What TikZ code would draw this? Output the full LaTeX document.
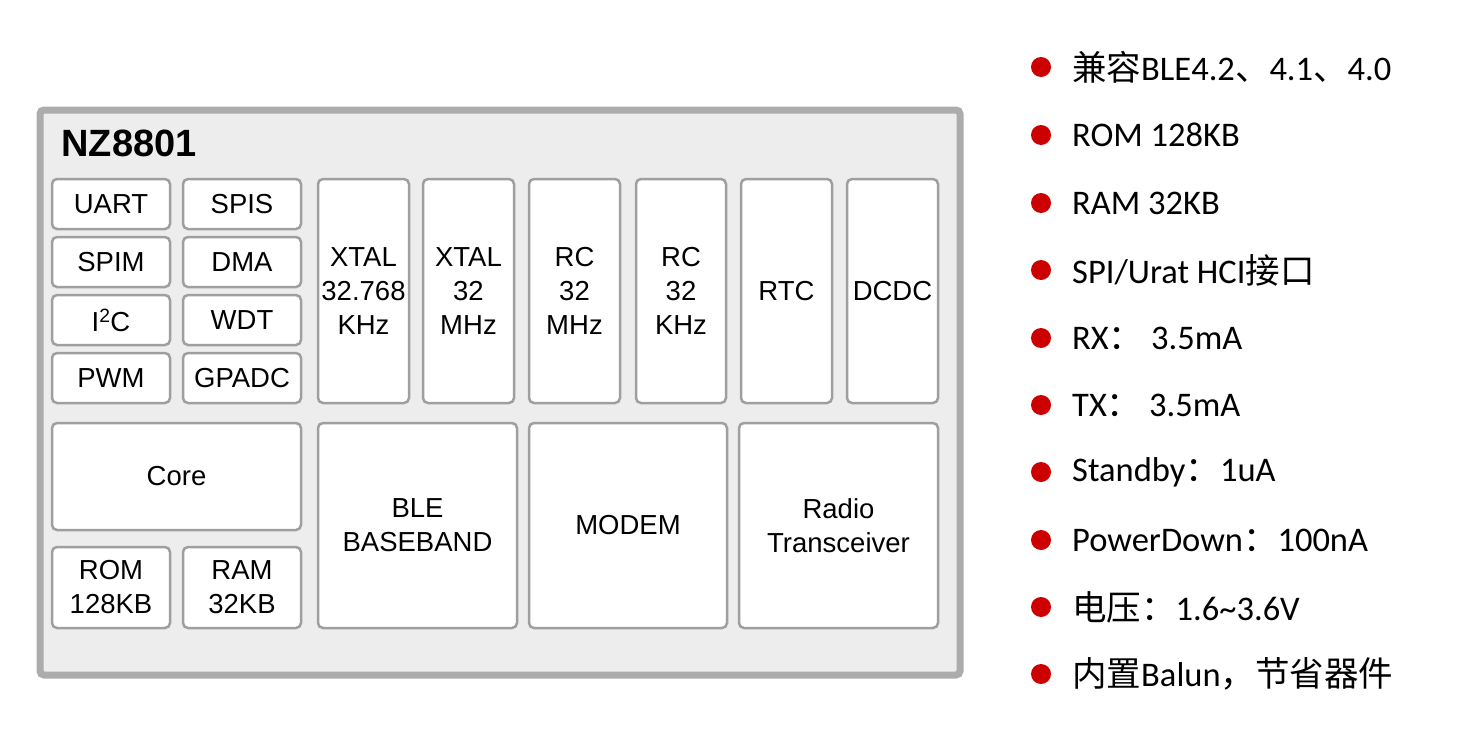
\documentclass[tikz,border=0pt]{standalone}
\usepackage{fontspec}
\setmainfont{Liberation Sans}
\newfontfamily\carlfont{Carlito}
\newfontfamily\cjk{Noto Sans CJK SC}
\begin{document}
\begin{tikzpicture}[x=1pt,y=-1pt,
  blk/.style={draw=gray!75,line width=2.5pt,fill=white,rounded corners=5pt,align=center,font=\fontsize{27.5}{34}\selectfont,inner sep=0pt},
  bul/.style={circle,fill=red!80!black,inner sep=0pt,minimum size=20pt},
  btxt/.style={anchor=west,font=\carlfont\fontsize{34.5}{38}\selectfont,inner sep=0pt}]
\useasboundingbox (0,0) rectangle (1468,744);
\node[draw=gray!65,line width=7pt,fill=gray!14,rounded corners=4pt,minimum width=920pt,minimum height=565pt,anchor=north west] (chip) at (36.5,106.5) {};
\node[anchor=west,font=\bfseries\fontsize{38}{42}\selectfont] (title) at (58,143) {NZ8801};
\newcommand{\bx}[6]{\node[blk,minimum width=#4pt-#2pt,minimum height=#5pt-#3pt] (#1) at ({(#2+#4)/2},{(#3+#5)/2}) {#6};}
\bx{uart}{52}{179}{170}{229}{UART}
\bx{spis}{183}{179}{301}{229}{SPIS}
\bx{spim}{52}{237}{170}{287}{SPIM}
\bx{dma}{183}{237}{301}{287}{DMA}
\bx{i2c}{52}{295}{170}{345}{I\textsuperscript{2}C}
\bx{wdt}{183}{295}{301}{345}{WDT}
\bx{pwm}{52}{353}{170}{403}{PWM}
\bx{gpadc}{183}{353}{301}{403}{GPADC}
\bx{x1}{318}{179}{409}{403}{XTAL\\32.768\\KHz}
\bx{x2}{423}{179}{514}{403}{XTAL\\32\\MHz}
\bx{rc1}{529}{179}{620}{403}{RC\\32\\MHz}
\bx{rc2}{636}{179}{726}{403}{RC\\32\\KHz}
\bx{rtc}{741}{179}{832}{403}{RTC}
\bx{dcdc}{847}{179}{938}{403}{DCDC}
\bx{core}{52}{423}{301}{530}{Core}
\bx{rom}{52}{547}{170}{628}{ROM\\128KB}
\bx{ram}{183}{547}{301}{628}{RAM\\32KB}
\bx{ble}{318}{423}{517}{628}{BLE\\BASEBAND}
\bx{modem}{529}{423}{727}{628}{MODEM}
\bx{radio}{739}{423}{938}{628}{Radio\\Transceiver}
\foreach \y/\t [count=\i] in {67/{{\cjk 兼容}BLE4.2{\cjk 、}4.1{\cjk 、}4.0},135/ROM 128KB,203/RAM 32KB,270/{SPI/Urat HCI{\cjk 接口}},338/{RX{\cjk ：} 3.5mA},405/{TX{\cjk ：} 3.5mA},472/{Standby{\cjk ：}1uA},540/{PowerDown{\cjk ：}100nA},607/{{\cjk 电压：}1.6\textasciitilde 3.6V},674/{{\cjk 内置}Balun{\cjk ，节省器件}}}{
  \node[bul] (b\i) at (1041,\y) {};
  \node[btxt] (t\i) at (1072,\y) {\t};
}
\end{tikzpicture}
\end{document}
